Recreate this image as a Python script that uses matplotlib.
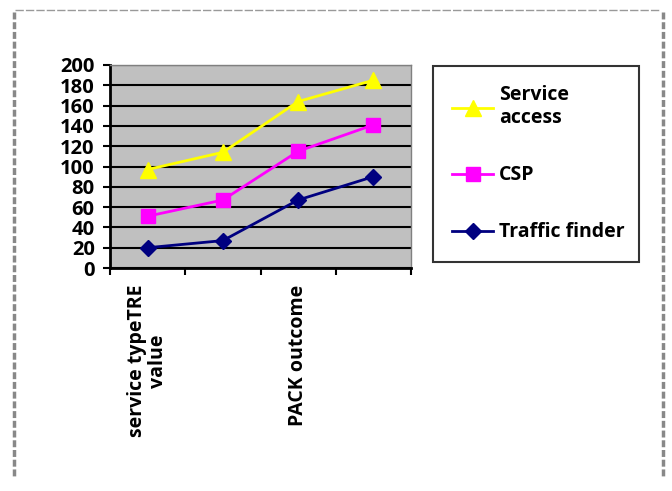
import numpy as np
import matplotlib
matplotlib.use('Agg')
import matplotlib.pyplot as plt
from matplotlib.lines import Line2D

categories = ['service typeTRE\nvalue', '', 'PACK outcome', '']
service_access = [97, 114, 164, 185]
csp = [51, 67, 115, 141]
traffic_finder = [20, 27, 67, 90]
yticks = [0, 20, 40, 60, 80, 100, 120, 140, 160, 180, 200]

plt.rcParams['font.family'] = ['Open Sans', 'DejaVu Sans']
plt.rcParams['font.weight'] = 'bold'

fig = plt.figure(figsize=(6.72, 4.91), dpi=100)
ax = fig.add_axes([110 / 672, 1 - 268 / 491, 301 / 672, 203 / 491])
ax.set_facecolor('#c0c0c0')

x = np.arange(len(categories)) + 0.5
ax.plot(x, service_access, color='#ffff00', lw=2, marker='^', ms=11,
        label='Service\naccess', zorder=3)
ax.plot(x, csp, color='#ff00ff', lw=2, marker='s', ms=10, label='CSP', zorder=3)
ax.plot(x, traffic_finder, color='#000080', lw=2, marker='D', ms=8,
        label='Traffic finder', zorder=3)

ax.set_xlim(0, len(categories))
ax.set_ylim(0, 200)
ax.set_yticks(yticks)
ax.set_xticks(np.arange(len(categories) + 1))
ax.set_xticklabels([])
ax.set_xticks(x, minor=True)
ax.set_xticklabels(categories, minor=True, rotation=90, va='top', ha='center',
                   fontsize=14, fontweight='bold', linespacing=1.05)
ax.tick_params(axis='x', which='minor', length=0, pad=12)
ax.tick_params(axis='x', which='major', length=5, width=1.5, direction='out')
ax.tick_params(axis='y', length=5, width=1.5, direction='out', labelsize=14.5, pad=6)
for lab in ax.get_yticklabels():
    lab.set_fontweight('bold')

ax.yaxis.grid(True, color='black', lw=1.5)
ax.set_axisbelow(True)
for side in ['top', 'right']:
    ax.spines[side].set_color('#808080')
    ax.spines[side].set_linewidth(1)
for side in ['left', 'bottom']:
    ax.spines[side].set_linewidth(2)

leg = ax.legend(loc='upper left', bbox_to_anchor=(433 / 672, 1 - 265 / 491, 206 / 672, 199 / 491),
                bbox_transform=fig.transFigure, mode='expand', borderaxespad=0,
                frameon=True, fancybox=False, edgecolor='black',
                handlelength=2.1, handletextpad=0.3, labelspacing=1.9, borderpad=1.0,
                prop={'weight': 'bold', 'size': 14})
leg.get_frame().set_linewidth(1.5)

# decorative page border
fig.add_artist(Line2D([15 / 672, 660 / 672], [1 - 10 / 491, 1 - 10 / 491], color='#999999',
                      lw=1, ls=(0, (6, 1.5)), transform=fig.transFigure))
for xp in [14 / 672, 663 / 672]:
    fig.add_artist(Line2D([xp, xp], [1 - 12 / 491, 1 - 476 / 491], color='#888888',
                          lw=2.5, ls=(0, (2, 0.8)), transform=fig.transFigure))

fig.savefig('out.png', dpi=100, facecolor='white')
